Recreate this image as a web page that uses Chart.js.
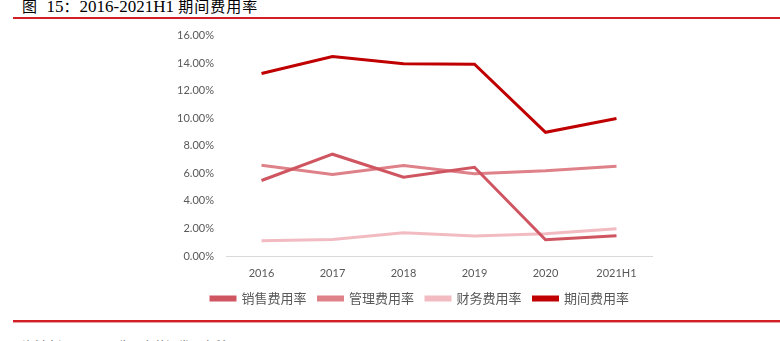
<!DOCTYPE html>
<html><head><meta charset="utf-8">
<script src="https://cdn.jsdelivr.net/npm/chart.js@4/dist/chart.umd.min.js"></script>
<style>
html,body{margin:0;padding:0;background:#fff;width:780px;height:341px;overflow:hidden;position:relative;}
#title{position:absolute;left:22px;top:-5px;font-family:"Liberation Serif","Noto Sans CJK SC",serif;font-size:17px;color:#000;white-space:nowrap;}
#title .cjk{font-family:"Noto Sans CJK SC",sans-serif;font-size:15px;letter-spacing:1px;}
#topline{position:absolute;left:13px;top:17px;width:767px;height:2px;background:#D21F26;}
#botline{position:absolute;left:13px;top:320px;width:767px;height:3px;background:#D21F26;border-bottom:1px solid #EBA0A4;box-sizing:border-box;}
#src{position:absolute;left:22px;top:337px;font-family:"Noto Sans CJK SC",sans-serif;font-size:12px;color:#666;white-space:nowrap;}
#wrap{position:absolute;left:0;top:17px;width:780px;height:302px;}
</style></head><body>
<div id="title"><span class="cjk">图</span>&nbsp;&nbsp;15<span class="cjk">：</span>2016-2021H1 <span class="cjk">期间费用率</span></div>
<div id="topline"></div>
<div id="wrap"><canvas id="c"></canvas></div>
<div id="botline"></div>
<div id="src">资料来源：公司公告，东莞证券研究所</div>
<script>
const categories = ["2016","2017","2018","2019","2020","2021H1"];
const salesRate   = [5.48, 7.39, 5.72, 6.44, 1.18, 1.47];
const adminRate   = [6.59, 5.91, 6.57, 5.98, 6.18, 6.52];
const financeRate = [1.11, 1.20, 1.69, 1.45, 1.62, 1.98];
const periodRate  = [13.25, 14.48, 13.95, 13.92, 8.98, 9.98];
const seriesNames = ["销售费用率","管理费用率","财务费用率","期间费用率"];
const colors = ["#CF5561","#DF8189","#F2BBC1","#C00000"];
const data = [salesRate, adminRate, financeRate, periodRate];

const shiftLegend = {
  id: 'shiftLegend',
  afterLayout(chart) {
    if (chart.legend) { chart.legend.left += 19; chart.legend.right += 19; }
  }
};

new Chart(document.getElementById('c'), {
  type: 'line',
  data: {
    labels: categories,
    datasets: data.map((d,i)=>({
      label: seriesNames[i], data: d,
      borderColor: colors[i], backgroundColor: colors[i],
      borderWidth: 3, pointRadius: 0, tension: 0, fill: false
    }))
  },
  plugins: [shiftLegend],
  options: {
    responsive: true, maintainAspectRatio: false, animation: false,
    layout: { padding: { left: 150, right: 128, top: 4, bottom: 4 } },
    plugins: {
      tooltip: { enabled: false },
      legend: {
        position: 'bottom',
        labels: {
          boxWidth: 24, boxHeight: 3, padding: 12,
          color: '#595959',
          font: { family: '"Noto Sans CJK SC", sans-serif', size: 13 }
        }
      }
    },
    scales: {
      x: {
        offset: true,
        grid: { display: false, drawTicks: false },
        border: { color: '#D9D9D9', width: 1 },
        ticks: { color: '#595959', font: { family: 'Lato, "Liberation Sans", sans-serif', size: 11 }, padding: 11 },
        afterFit: s => { s.height = 24; }
      },
      y: {
        min: 0, max: 16,
        grid: { display: false, drawTicks: false },
        border: { display: false },
        ticks: { stepSize: 2, color: '#595959', padding: 12,
          font: { family: 'Lato, "Liberation Sans", sans-serif', size: 11 },
          callback: v => v.toFixed(2) + '%' },
        afterFit: s => { s.width = 76; }
      }
    }
  }
});
</script>
</body></html>
